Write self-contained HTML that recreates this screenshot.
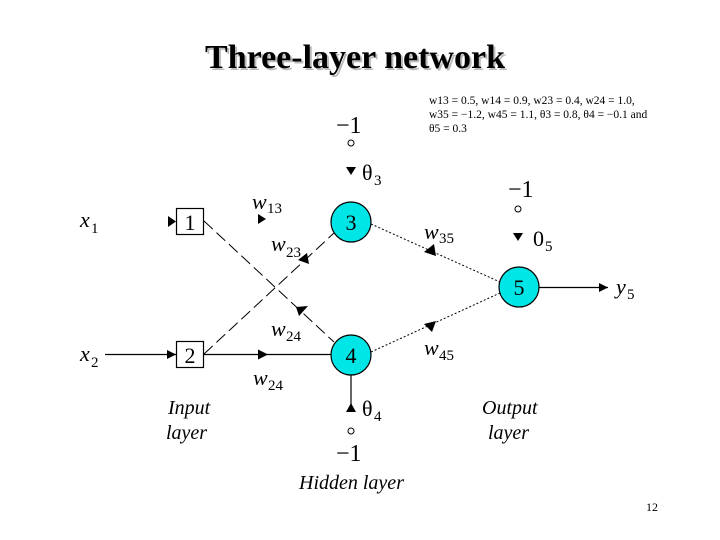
<!DOCTYPE html>
<html><head><style>
html,body{margin:0;padding:0;background:#fff;}
svg{display:block;}
text{font-family:"Liberation Serif",serif;fill:#000;}
</style></head><body>
<svg width="720" height="540" viewBox="0 0 720 540" xmlns="http://www.w3.org/2000/svg">
<defs>
<marker id="a" viewBox="0 0 10 10" refX="10" refY="5" markerWidth="9" markerHeight="9" orient="auto" markerUnits="userSpaceOnUse"><path d="M0,0 L10,5 L0,10z" fill="#000"/></marker>
</defs>
<text x="357" y="70" font-size="34" font-weight="bold" text-anchor="middle" style="fill:#bbb">Three-layer network</text>
<text x="355" y="68" font-size="34" font-weight="bold" text-anchor="middle">Three-layer network</text>
<text x="429" y="104" font-size="11.5">w13 = 0.5, w14 = 0.9, w23 = 0.4, w24 = 1.0,</text>
<text x="429" y="118" font-size="11.5">w35 = −1.2, w45 = 1.1, θ3 = 0.8, θ4 = −0.1 and</text>
<text x="429" y="132" font-size="11.5">θ5 = 0.3</text>

<text x="80" y="227" font-size="22" font-style="italic">x</text><text x="91" y="233" font-size="15">1</text>
<text x="80" y="361" font-size="22" font-style="italic">x</text><text x="91" y="367" font-size="15">2</text>
<path d="M168,216 L176,221.5 L168,227z"/>
<line x1="105" y1="354.5" x2="176" y2="354.5" stroke="#000" stroke-width="1.2" marker-end="url(#a)"/>
<rect x="176.5" y="208.5" width="27" height="26" fill="#fff" stroke="#000" stroke-width="1.2"/>
<rect x="176.5" y="341.5" width="27" height="26" fill="#fff" stroke="#000" stroke-width="1.2"/>
<text x="190" y="230" font-size="22" text-anchor="middle">1</text>
<text x="190" y="363" font-size="22" text-anchor="middle">2</text>

<line x1="204" y1="221" x2="334" y2="342" stroke="#000" stroke-width="1" stroke-dasharray="12,5"/>
<line x1="204" y1="354" x2="334" y2="233" stroke="#000" stroke-width="1" stroke-dasharray="12,5"/>
<path d="M296,307 L308,306 L299,316z"/>
<path d="M298,260 L307,253 L309,264z"/>
<path d="M258,214 L266,219 L258,224z"/>
<line x1="204" y1="354.5" x2="331" y2="354.5" stroke="#000" stroke-width="1.2"/>
<path d="M258,349.5 L268,354.5 L258,359.5z"/>

<line x1="371" y1="224" x2="500" y2="282" stroke="#000" stroke-width="1" stroke-dasharray="2,2"/>
<line x1="371" y1="352" x2="500" y2="293" stroke="#000" stroke-width="1" stroke-dasharray="2,2"/>
<path d="M424,252 L434,244 L436,256z"/>
<path d="M424,324 L436,321 L432,332z"/>
<line x1="539" y1="287.5" x2="608" y2="287.5" stroke="#000" stroke-width="1.2" marker-end="url(#a)"/>

<text x="336" y="133" font-size="24">−1</text>
<circle cx="351" cy="143" r="3" fill="#fff" stroke="#000"/>
<path d="M346,167 L356,167 L351,175z"/>
<text x="362" y="180" font-size="22">θ</text><text x="374" y="185" font-size="15">3</text>

<text x="508" y="197" font-size="24">−1</text>
<circle cx="518" cy="209" r="3" fill="#fff" stroke="#000"/>
<path d="M513,233 L523,233 L518,241z"/>
<text x="533" y="246" font-size="22">0</text><text x="545" y="251" font-size="15">5</text>

<line x1="351" y1="375" x2="351" y2="407" stroke="#000" stroke-width="1.2"/>
<path d="M346,412 L356,412 L351,403z"/>
<text x="362" y="416" font-size="22">θ</text><text x="374" y="421" font-size="15">4</text>
<circle cx="351" cy="431" r="3" fill="#fff" stroke="#000"/>
<text x="336" y="461" font-size="24">−1</text>

<circle cx="351" cy="222" r="20" fill="#00e5e5" stroke="#000" stroke-width="1.2"/>
<circle cx="351" cy="355" r="20" fill="#00e5e5" stroke="#000" stroke-width="1.2"/>
<circle cx="519" cy="287" r="20" fill="#00e5e5" stroke="#000" stroke-width="1.2"/>
<text x="351" y="230" font-size="22" text-anchor="middle">3</text>
<text x="351" y="363" font-size="22" text-anchor="middle">4</text>
<text x="519" y="295" font-size="22" text-anchor="middle">5</text>

<text x="252" y="209" font-size="22" font-style="italic">w</text><text x="267" y="213" font-size="15">13</text>
<text x="271" y="251" font-size="22" font-style="italic">w</text><text x="286" y="257" font-size="15">23</text>
<text x="271" y="336" font-size="22" font-style="italic">w</text><text x="286" y="341" font-size="15">24</text>
<text x="253" y="385" font-size="22" font-style="italic">w</text><text x="268" y="390" font-size="15">24</text>
<text x="424" y="239" font-size="22" font-style="italic">w</text><text x="439" y="243" font-size="15">35</text>
<text x="424" y="355" font-size="22" font-style="italic">w</text><text x="439" y="360" font-size="15">45</text>
<text x="616" y="294" font-size="22" font-style="italic">y</text><text x="627" y="299" font-size="15">5</text>

<text x="168" y="414" font-size="20" font-style="italic">Input</text>
<text x="166" y="439" font-size="20" font-style="italic">layer</text>
<text x="482" y="414" font-size="20" font-style="italic">Output</text>
<text x="488" y="439" font-size="20" font-style="italic">layer</text>
<text x="299" y="489" font-size="20" font-style="italic">Hidden layer</text>
<text x="646" y="511" font-size="12">12</text>
</svg>
</body></html>
